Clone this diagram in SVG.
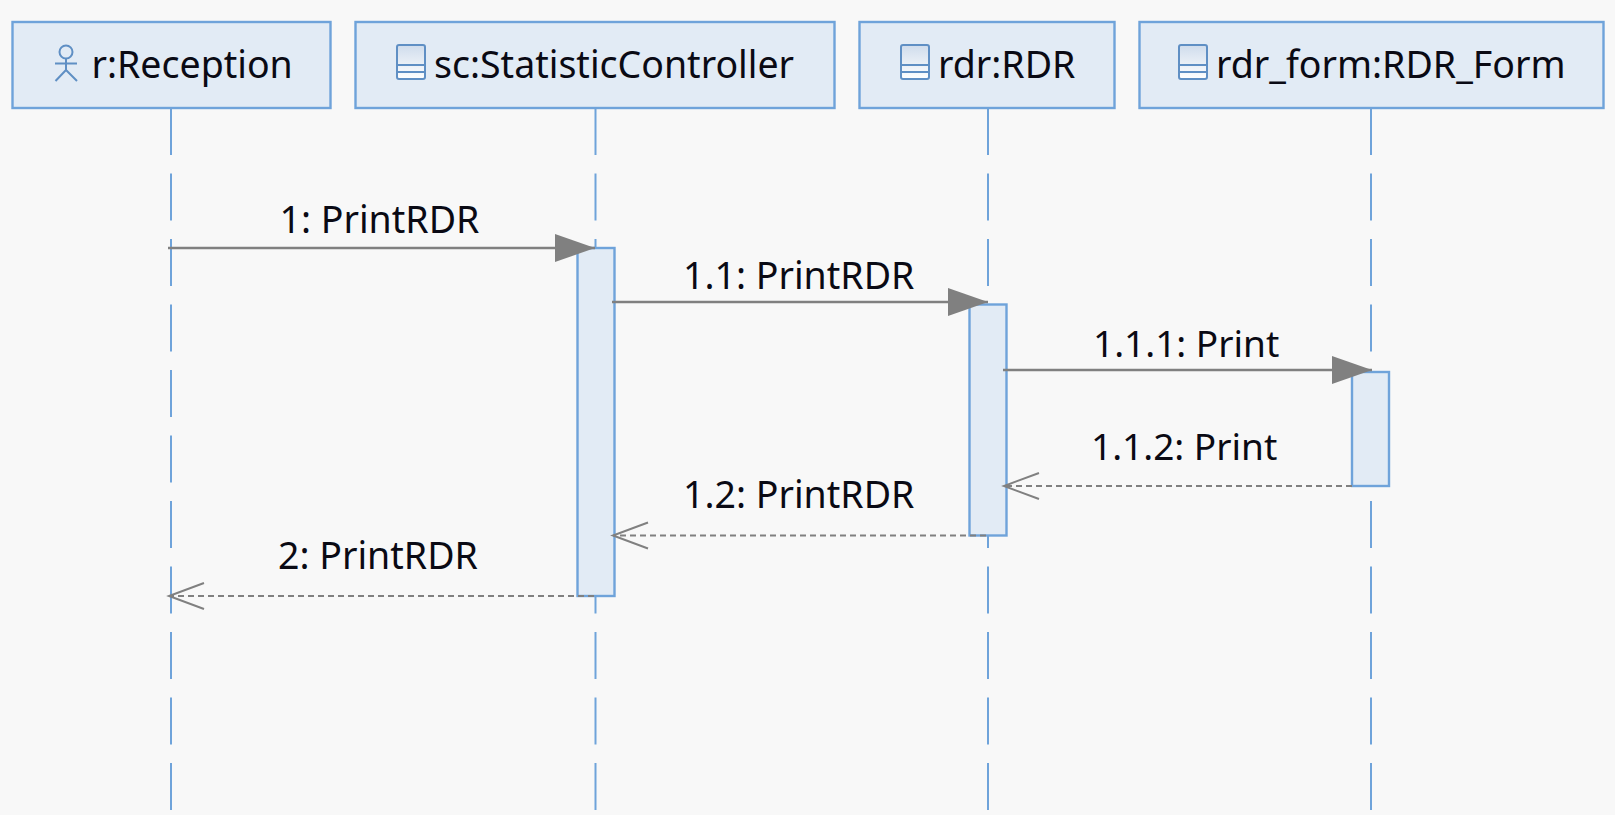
<svg xmlns="http://www.w3.org/2000/svg" width="1615" height="815" viewBox="0 0 1615 815">
<defs>
<style>
.box{fill:#e2ebf5;stroke:#6fa3da;stroke-width:2.4}
.life{stroke:#6fa3da;stroke-width:2;stroke-dasharray:47 18.5;fill:none}
.msg{stroke:#808080;stroke-width:2.4;fill:none}
.ret{stroke:#808080;stroke-width:2.2;fill:none;stroke-dasharray:6 4}
.ic{fill:none;stroke:#5f8fc4;stroke-width:2}
text{font-family:"Noto Sans","Open Sans","Liberation Sans",sans-serif;font-size:37.5px;fill:#0a0a14}
text.p{font-size:37px}
</style>
<linearGradient id="g" x1="0" y1="0" x2="0" y2="1"><stop offset="0" stop-color="#cfdcec"/><stop offset="1" stop-color="#ffffff"/></linearGradient>
<marker id="solid" markerUnits="userSpaceOnUse" markerWidth="42" markerHeight="30" refX="40" refY="14" orient="auto"><path d="M0 0L40 14L0 28Z" fill="#808080"/></marker>
<marker id="open" markerUnits="userSpaceOnUse" markerWidth="40" markerHeight="30" refX="37" refY="14" orient="auto"><path d="M2 1L37 14L2 27" fill="none" stroke="#808080" stroke-width="2"/></marker>
<g id="cls"><rect x="0" y="0" width="28" height="34" rx="2" fill="url(#g)" stroke="#5f8fc4" stroke-width="2"/><path d="M0 20H28M0 27H28" stroke="#5f8fc4" stroke-width="2"/></g>
</defs>
<rect width="1615" height="815" fill="#f8f8f8"/>
<g id="lifelines">
<path class="life" d="M171 108V815"/>
<path class="life" d="M595.500 108V815"/>
<path class="life" d="M988 108V815"/>
<path class="life" d="M1371 108V815"/>
</g>
<g id="n-reception"><rect class="box" x="12.500" y="22" width="318" height="86"/>
<circle class="ic" cx="66" cy="52" r="6.500"/><path class="ic" d="M66 58.500V70M55 63.500H77M66 70L55.500 81M66 70L77 81"/>
<text x="91.500" y="78">r:Reception</text></g>
<g id="n-statistic"><rect class="box" x="355.500" y="22" width="479" height="86"/>
<use href="#cls" x="397" y="45"/>
<text x="434" y="78">sc:StatisticController</text></g>
<g id="n-rdr"><rect class="box" x="859.500" y="22" width="255" height="86"/>
<use href="#cls" x="901" y="45"/>
<text x="938" y="78">rdr:RDR</text></g>
<g id="n-form"><rect class="box" x="1139.500" y="22" width="464" height="86"/>
<use href="#cls" x="1179" y="45"/>
<text x="1216" y="78">rdr_form:RDR_Form</text></g>
<g id="activations">
<rect class="box" x="577.500" y="248" width="37" height="348"/>
<rect class="box" x="969.500" y="304.500" width="37" height="231"/>
<rect class="box" x="1352" y="372" width="37" height="114"/>
</g>
<g id="connectors">
<path class="msg" d="M168 248H595" marker-end="url(#solid)"/>
<path class="msg" d="M612 302H988" marker-end="url(#solid)"/>
<path class="msg" d="M1003 370H1372" marker-end="url(#solid)"/>
<path class="ret" d="M1352 486H1004" marker-end="url(#open)"/>
<path class="ret" d="M986 535.500H613" marker-end="url(#open)"/>
<path class="ret" d="M594 596H169" marker-end="url(#open)"/>
</g>
<g id="labels">
<text x="279.500" y="233">1: PrintRDR</text>
<text x="683" y="289">1.1: PrintRDR</text>
<text class="p" x="1093" y="357">1.1.1: Print</text>
<text class="p" x="1091" y="460">1.1.2: Print</text>
<text x="683" y="508">1.2: PrintRDR</text>
<text x="278" y="569">2: PrintRDR</text>
</g>
</svg>
